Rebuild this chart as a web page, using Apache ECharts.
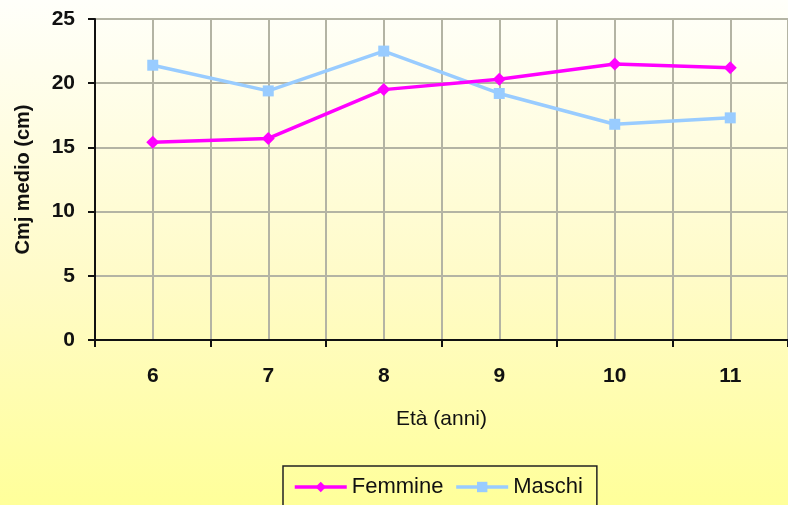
<!DOCTYPE html>
<html>
<head>
<meta charset="utf-8">
<script src="https://cdn.jsdelivr.net/npm/echarts@6/dist/echarts.min.js"></script>
<style>
  html, body { margin: 0; padding: 0; }
  #chart { width: 788px; height: 505px; }
</style>
</head>
<body>
<div id="chart"></div>
<script>
// Età (anni) on the x axis, mean CMJ height in cm on the y axis
const categories = ['6', '7', '8', '9', '10', '11'];
const femmine = [15.4, 15.7, 19.5, 20.3, 21.5, 21.2];
const maschi = [21.4, 19.4, 22.5, 19.2, 16.8, 17.3];
const yTicks = { min: 0, max: 25, interval: 5 };

const FONT = '"Liberation Sans", Arial, sans-serif';
const gridColor = '#b4b4a4';

const chart = echarts.init(document.getElementById('chart'), null, { renderer: 'canvas' });

chart.setOption({
  animation: false,
  backgroundColor: {
    type: 'linear', x: 0, y: 0, x2: 0, y2: 1,
    colorStops: [
      { offset: 0, color: '#fffffa' },
      { offset: 0.55, color: '#fffbc8' },
      { offset: 1, color: '#ffff9a' }
    ]
  },
  textStyle: { fontFamily: FONT },
  grid: { left: 95, top: 19, right: -4, bottom: 165, containLabel: false },
  legend: {
    left: 283, top: 466,
    padding: [10, 14, 10, 10],
    itemWidth: 52, itemHeight: 13, itemGap: 11,
    borderColor: '#222', borderWidth: 1.5,
    lineStyle: { width: 3.5 },
    textStyle: { fontFamily: FONT, fontSize: 22, color: '#111' },
    data: ['Femmine', 'Maschi']
  },
  xAxis: [
    {
      type: 'category',
      data: categories,
      boundaryGap: true,
      name: 'Età (anni)',
      nameLocation: 'middle',
      nameGap: 69,
      nameTextStyle: { fontFamily: FONT, fontSize: 21, color: '#111' },
      axisLine: { onZero: false, lineStyle: { color: '#111', width: 2 } },
      axisTick: { show: true, inside: false, length: 7, lineStyle: { color: '#111', width: 2 } },
      axisLabel: { margin: 26, fontFamily: FONT, fontSize: 21, fontWeight: 'bold', color: '#111' },
      splitLine: { show: false }
    },
    {
      // helper axis in category units: grid lines at every half category
      type: 'value',
      min: -0.5, max: 5.5, interval: 0.5,
      position: 'bottom',
      axisLine: { show: false, onZero: false },
      axisTick: { show: false },
      axisLabel: { show: false },
      splitLine: { show: true, lineStyle: { color: gridColor, width: 2 } }
    }
  ],
  yAxis: {
    type: 'value',
    min: yTicks.min, max: yTicks.max, interval: yTicks.interval,
    name: 'Cmj medio (cm)',
    nameLocation: 'middle',
    nameGap: 62,
    nameRotate: 90,
    nameTextStyle: { fontFamily: FONT, fontSize: 20, fontWeight: 'bold', color: '#111' },
    axisLine: { show: true, onZero: false, lineStyle: { color: '#111', width: 2 } },
    axisTick: { show: true, inside: false, length: 7, lineStyle: { color: '#111', width: 2 } },
    axisLabel: { margin: 20, fontFamily: FONT, fontSize: 21, fontWeight: 'bold', color: '#111' },
    splitLine: { show: true, lineStyle: { color: gridColor, width: 2 } }
  },
  series: [
    {
      name: 'Femmine',
      type: 'line',
      data: femmine,
      xAxisIndex: 0,
      symbol: 'diamond',
      symbolSize: 13,
      lineStyle: { color: '#ff00ff', width: 3.5 },
      itemStyle: { color: '#ff00ff' },
      z: 3
    },
    {
      name: 'Maschi',
      type: 'line',
      data: maschi,
      xAxisIndex: 0,
      symbol: 'rect',
      symbolSize: 11,
      lineStyle: { color: '#99ccff', width: 3.5 },
      itemStyle: { color: '#99ccff' },
      z: 2
    }
  ]
});
</script>
</body>
</html>
